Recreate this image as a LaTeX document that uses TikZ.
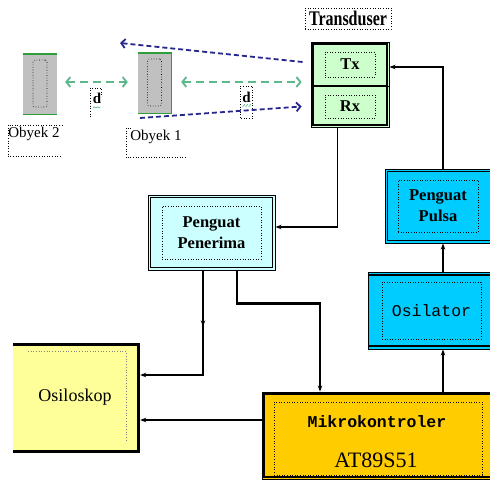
\documentclass[tikz,border=0pt]{standalone}
\usepackage{fontspec}
\setmainfont{Liberation Serif}
\newfontfamily\monofnt{Liberation Mono}
\usepackage{graphicx}
\usetikzlibrary{arrows.meta,decorations.markings}
\definecolor{txgreen}{HTML}{CCFFCC}
\definecolor{ppcyan}{HTML}{CCFFFF}
\definecolor{blueb}{HTML}{00CCFF}
\definecolor{mkorange}{HTML}{FFCC00}
\definecolor{oskyellow}{HTML}{FFFF99}
\definecolor{objgray}{HTML}{C0C0C0}
\definecolor{objgreen}{HTML}{2E9E3A}
\definecolor{dgreen}{HTML}{5DB88A}
\definecolor{dblue}{HTML}{26268F}
\begin{document}
\begin{tikzpicture}[x=1pt,y=-1pt,
  blockframe/.style={draw=black, line width=0.9pt, inner sep=0pt},
  innerline/.style={draw=black, line width=1.5pt},
  dotbox/.style={draw=black, dotted, line width=0.6pt, inner sep=0pt, align=center},
  dotline/.style={draw=black, dotted, line width=0.6pt},
  conn/.style={line width=1.3pt, -{Stealth[length=6pt,width=4.5pt]}},
  garrow/.style={draw=dgreen, line width=1.8pt, dash pattern=on 8pt off 5pt,
     {Straight Barb[length=4pt,width=10pt]}-{Straight Barb[length=4pt,width=10pt]}},
  barrow/.style={draw=dblue, line width=1.8pt, dash pattern=on 5pt off 3pt,
     -{Straight Barb[length=4pt,width=9pt]}},
  bfont/.style={font=\bfseries\fontsize{16.5}{21}\selectfont},
  objfont/.style={font=\fontsize{15}{16}\selectfont},
  objbox/.style={fill=objgray, inner sep=0pt},
  objin/.style={draw=black, dotted, line width=0.6pt, rounded corners=2pt, inner sep=0pt, minimum width=14pt, minimum height=47pt}
]
\useasboundingbox (0,0) rectangle (490,482);

% ---------- objects ----------
\node[objbox, minimum width=34pt, minimum height=60pt] (ob2) at (40,84) {};
\draw[objgreen, line width=1.4pt] (ob2.north west) -- (ob2.north east);
\draw[objgreen, line width=1.4pt] (ob2.south west) -- (ob2.south east);
\node[objin] (ob2in) at (40,83.5) {};

\node[objbox, minimum width=33pt, minimum height=60pt] (ob1) at (154.5,83) {};
\draw[objgreen, line width=1.4pt] (ob1.north west) -- (ob1.north east) -- (ob1.south east) -- (ob1.south west);
\node[objin] (ob1in) at (154.5,82.5) {};

% labels of objects
\node[minimum width=54pt, minimum height=31pt, inner sep=0pt] (ob2box) at (35,140.5) {};
\draw[dotline] (ob2box.north east) -- (ob2box.north west) -- (ob2box.south west) -- (ob2box.south east);
\node[objfont] (ob2lbl) at (34,134) {Obyek 2};

\node[minimum width=59pt, minimum height=29pt, inner sep=0pt] (ob1box) at (155.5,142.5) {};
\draw[dotline] ([xshift=5pt]ob1box.north west) -- (ob1box.north west) -- (ob1box.south west) -- (ob1box.south east);
\node[objfont] (ob1lbl) at (156,137) {Obyek 1};

% d labels
\node[minimum width=11pt, minimum height=30pt, inner sep=0pt] (d1box) at (95.5,103) {};
\draw[dotline] ([yshift=-7pt]d1box.north east) -- (d1box.north east) -- (d1box.north west) -- (d1box.south west);
\node[font=\bfseries\fontsize{15}{16}\selectfont] (d1) at (97,98) {d};
\draw[dgreen, line width=0.6pt] (93,108) -- (94.5,106.8) -- (96,108) -- (97.5,106.8) -- (99,108) -- (100.5,106.8);

\node[minimum width=12pt, minimum height=32pt, inner sep=0pt] (d2box) at (246,102) {};
\draw[dotline] (d2box.north west) rectangle (d2box.south east);
\node[font=\bfseries\fontsize{15}{16}\selectfont] (d2) at (246.5,97) {d};
\draw[dgreen, line width=0.6pt] (242.5,107) -- (245,104) (245.5,107) -- (248,104) (248.5,107) -- (251,104);

% ---------- transducer ----------
\node[dotbox, minimum width=86pt, minimum height=21pt] (trlbl) at (348,18.5)
  {\bfseries\fontsize{16}{18}\selectfont\scalebox{1}[1.3]{Transduser}};
\node[blockframe, fill=txgreen, minimum width=78pt, minimum height=44pt] (tx) at (350,64) {};
\node[blockframe, fill=txgreen, minimum width=78pt, minimum height=41pt] (rx) at (350,106.5) {};
\draw[innerline] ([shift={(2.5pt,-2.5pt)}]tx.north west) rectangle ([shift={(-2.5pt,1pt)}]tx.south east);
\draw[innerline] ([shift={(2.5pt,-1pt)}]rx.north west) rectangle ([shift={(-2.5pt,2.5pt)}]rx.south east);
\node[dotbox, bfont, minimum width=50pt, minimum height=25pt] (txin) at (350,64.5) {Tx};
\node[dotbox, bfont, minimum width=50pt, minimum height=23pt] (rxin) at (350,106.5) {Rx};

% ---------- blocks ----------
\node[blockframe, fill=ppcyan, minimum width=127pt, minimum height=75pt] (pp) at (211.5,232.5) {};
\draw[innerline] ([shift={(3pt,-3pt)}]pp.north west) rectangle ([shift={(-3pt,3pt)}]pp.south east);
\node[dotbox, bfont, minimum width=99pt, minimum height=53pt] (ppin) at (211.5,232.5) {Penguat\\Penerima};

\node[blockframe, fill=blueb, minimum width=110pt, minimum height=74pt] (pulsa) at (440,206) {};
\draw[innerline] ([shift={(3pt,-3pt)}]pulsa.north west) rectangle ([shift={(-3pt,3pt)}]pulsa.south east);
\node[dotbox, bfont, minimum width=80pt, minimum height=52pt] (pulsain) at (438,206) {Penguat\\Pulsa};

\node[blockframe, fill=blueb, minimum width=127pt, minimum height=77pt] (osc) at (431.5,310.5) {};
\draw[innerline] ([shift={(0pt,-3.5pt)}]osc.north west) -- ([shift={(0pt,-3.5pt)}]osc.north east);
\draw[innerline] ([shift={(0pt,3.5pt)}]osc.south west) -- ([shift={(0pt,3.5pt)}]osc.south east);
\node[dotbox, font=\monofnt\fontsize{16.5}{18}\selectfont, minimum width=99pt, minimum height=57pt] (oscin) at (431.5,310.5) {Osilator};

\node[blockframe, fill=mkorange, minimum width=233pt, minimum height=87pt] (mikro) at (378.5,435.5) {};
\draw[innerline] ([shift={(2.5pt,-2.5pt)}]mikro.north west) rectangle ([shift={(-2.5pt,2.5pt)}]mikro.south east);
\node[dotbox, minimum width=208pt, minimum height=73pt] (mikroin) at (378,438.5) {};
\node[font=\monofnt\bfseries\fontsize{16.5}{18}\selectfont] (mk1) at (377,422) {Mikrokontroler};
\node[font=\fontsize{22}{24}\selectfont] (mk2) at (376,460) {AT89S51};

\node[fill=oskyellow, inner sep=0pt, minimum width=127pt, minimum height=110pt] (osk) at (76.5,398) {};
\draw[line width=3pt, line join=miter] ([yshift=-1.5pt]osk.north west) -- ([xshift=-2pt,yshift=-1.5pt]osk.north east)
  -- ([xshift=-2pt,yshift=1.5pt]osk.south east) -- ([yshift=1.5pt]osk.south west);
\draw[gray, dotted, line width=0.7pt] ([xshift=15pt,yshift=-9pt]osk.north west) -- ([xshift=-14pt,yshift=-9pt]osk.north east)
  -- ([xshift=-14pt,yshift=11pt]osk.south east);
\node[font=\fontsize{18}{20}\selectfont] (osktxt) at (75,397) {Osiloskop};

% ---------- wave arrows ----------
\coordinate (bluetip) at (120,43);
\coordinate (bluestart) at (140,118);
\draw[barrow] ([xshift=-8pt,yshift=2pt]tx.west) -- (bluetip);
\draw[barrow] (bluestart) -- ([xshift=-9pt]rx.west);
\draw[garrow] ([xshift=8pt,yshift=2pt]ob2.east) -- ([xshift=-10pt,yshift=1pt]ob1.west);
\draw[garrow] ([xshift=10pt,yshift=1pt]ob1.east) -- ([xshift=-9pt,yshift=-18pt]tx.west);

% ---------- connectors ----------
\draw[conn] ([xshift=-12.5pt]rx.south) |- ([yshift=5.5pt]pp.east);
\draw[conn] ([xshift=3pt]pulsa.north) |- ([yshift=-3pt]tx.east);
\draw[conn] ([xshift=11.5pt]osc.north) -- ([xshift=3pt]pulsa.south);
\draw[conn] ([xshift=64.5pt]mikro.north) -- ([xshift=11.5pt]osc.south);
\draw[conn] ([yshift=15.5pt]mikro.west) -- ([yshift=-22pt]osk.east);
\draw[conn, postaction={decorate}, decoration={markings, mark=at position 56pt with {\arrow{Stealth[length=6pt,width=4.5pt]}}}]
  ([xshift=-8.5pt]pp.south) |- ([yshift=23pt]osk.east);
\draw[conn, line width=2.2pt] ([xshift=25.5pt]pp.south) -- ++(0,33) -| ([xshift=-58.5pt]mikro.north);
\end{tikzpicture}
\end{document}
